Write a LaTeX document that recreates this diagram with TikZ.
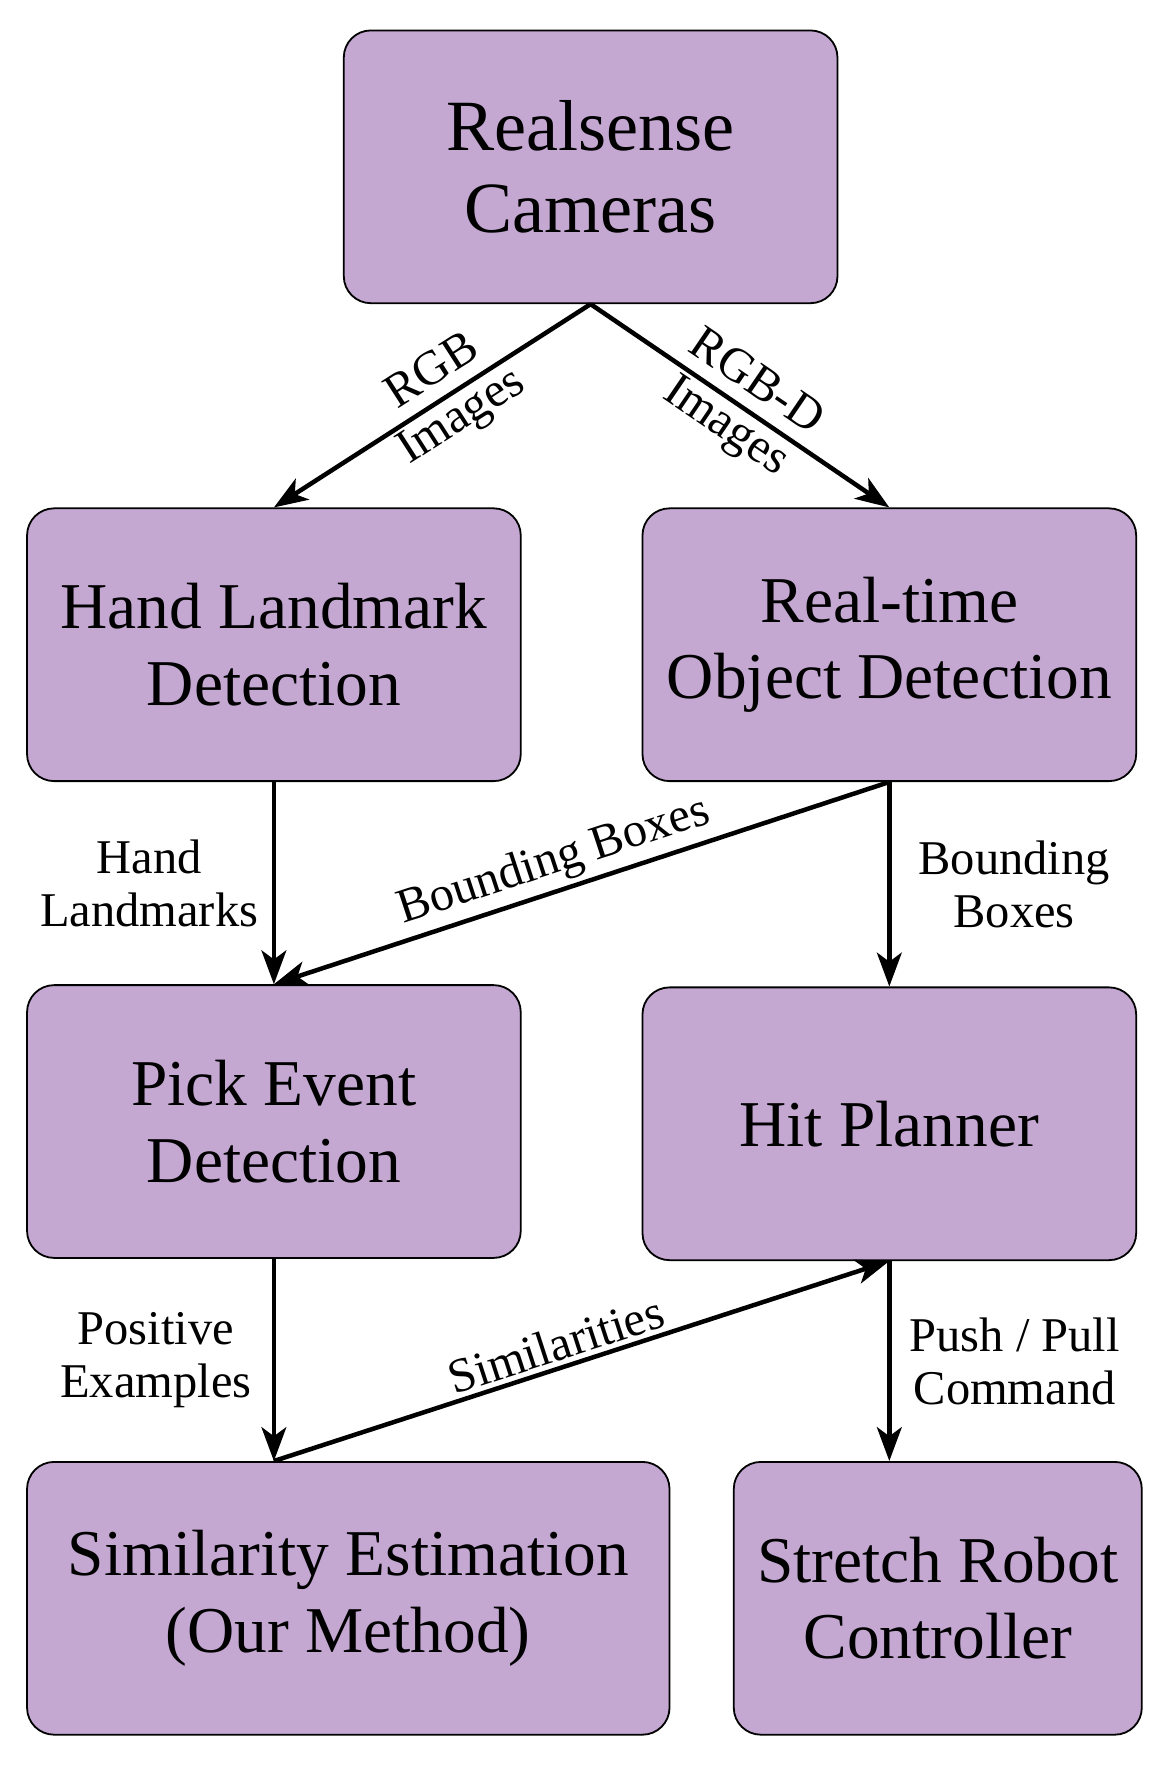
\documentclass[tikz,border=0pt]{standalone}
\usepackage{fontspec}
\setmainfont{Liberation Serif}
\usetikzlibrary{arrows.meta}
\definecolor{boxpurple}{RGB}{196,168,210}

\begin{document}
\begin{tikzpicture}[x=0.5pt,y=-0.5pt,
  block/.style={draw=black,line width=0.8pt,fill=boxpurple,rounded corners=12pt,
    minimum width=219pt,minimum height=121pt,align=center,
    font=\fontsize{29}{34}\selectfont},
  flow/.style={line width=2pt,-{Stealth[length=15pt,width=11pt,inset=4pt]}},
  lbl/.style={align=center,inner sep=2pt,font=\fontsize{21.5}{23.5}\selectfont}]
\useasboundingbox (0,0) rectangle (1035,1573);
% boxes
\node[block,font=\fontsize{32}{36.5}\selectfont] (cams) at (524,148) {Realsense\\Cameras};
\node[block] (hand) at (243,572) {Hand Landmark\\Detection};
\node[block] (objdet) at (789,572) {Real-time\\Object Detection};
\node[block] (pick) at (243,995) {Pick Event\\Detection};
\node[block] (hit) at (789,997) {Hit Planner};
\node[block,minimum width=285pt] (simest) at (309,1418) {Similarity Estimation\\(Our Method)};
\node[block,minimum width=181pt] (robot) at (832,1418) {Stretch Robot\\Controller};
% connectors
\draw[flow] (cams.south) -- node[lbl,sloped,pos=0.45] {RGB\\Images} (hand.north);
\draw[flow] (cams.south) -- node[lbl,sloped,pos=0.5] {RGB-D\\Images} (objdet.north);
\draw[flow] (hand.south) -- node[lbl,left=4pt] {Hand\\Landmarks} (pick.north);
\draw[flow] (objdet.south) -- node[lbl,sloped,above,pos=0.53] {Bounding Boxes} (pick.north);
\draw[flow] (objdet.south) -- node[lbl,right=10pt] {Bounding\\Boxes} (hit.north);
\draw[flow] (pick.south) -- node[lbl,left=7pt] {Positive\\Examples} (pick.south |- simest.north);
\draw[flow] (pick.south |- simest.north) -- node[lbl,sloped,above,pos=0.47] {Similarities} (hit.south);
\draw[flow] (hit.south) -- node[lbl,right=6pt] {Push / Pull\\Command} (hit.south |- robot.north);
\end{tikzpicture}
\end{document}
